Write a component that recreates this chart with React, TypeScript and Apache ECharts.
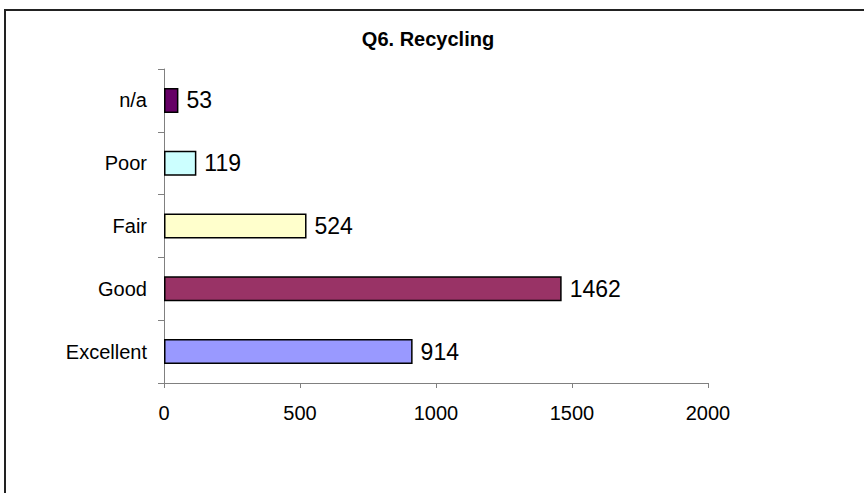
import React, { useEffect, useRef } from "react";
import * as echarts from "echarts";

const categories = ["Excellent", "Good", "Fair", "Poor", "n/a"];
const counts = [914, 1462, 524, 119, 53];
const barColors = ["#9999FF", "#993366", "#FFFFCC", "#CCFFFF", "#660066"];
const xTicks = [0, 500, 1000, 1500, 2000];
const titleText = "Q6. Recycling";

export default function App() {
  const ref = useRef<HTMLDivElement>(null);
  useEffect(() => {
    if (!ref.current) return;
    const chart = echarts.init(ref.current, null, { renderer: "svg" });
    const font = "Liberation Sans, Arial, sans-serif";
    chart.setOption({
      animation: false,
      backgroundColor: "#ffffff",
      title: {
        text: titleText,
        left: 423,
        top: 24,
        textAlign: "center",
        textStyle: { fontFamily: font, fontSize: 20, fontWeight: "bold", color: "#000" },
      },
      graphic: [
        {
          type: "rect",
          shape: { x: 5, y: 10, width: 1000, height: 1000 },
          style: { fill: "none", stroke: "#222", lineWidth: 2 },
          silent: true,
        },
      ],
      grid: { left: 164, right: 156, top: 69, bottom: 110, containLabel: false },
      xAxis: {
        type: "value",
        min: xTicks[0],
        max: xTicks[xTicks.length - 1],
        interval: 500,
        splitLine: { show: false },
        axisLine: { show: true, lineStyle: { color: "#808080", width: 1 } },
        axisTick: { show: true, length: 5, lineStyle: { color: "#808080" } },
        axisLabel: {
          fontFamily: font,
          fontSize: 20,
          color: "#000",
          margin: 20,
          formatter: (v: number) => String(v),
        },
      },
      yAxis: {
        type: "category",
        data: categories,
        axisLine: { show: true, lineStyle: { color: "#808080", width: 1 } },
        axisTick: { show: true, length: 6, lineStyle: { color: "#808080" } },
        axisLabel: { fontFamily: font, fontSize: 20, color: "#000", margin: 17 },
      },
      series: [
        {
          type: "bar",
          barWidth: 25,
          data: counts.map((v, i) => ({
            value: v,
            itemStyle: { color: barColors[i], borderColor: "#000", borderWidth: 1.5 },
          })),
          label: {
            show: true,
            position: "right",
            distance: 8,
            fontFamily: font,
            fontSize: 23,
            color: "#000",
          },
        },
      ],
    });
    return () => chart.dispose();
  }, []);
  return (
    <div
      ref={ref}
      style={{ position: "fixed", left: 0, top: 0, width: 864, height: 493, background: "#fff" }}
    />
  );
}
